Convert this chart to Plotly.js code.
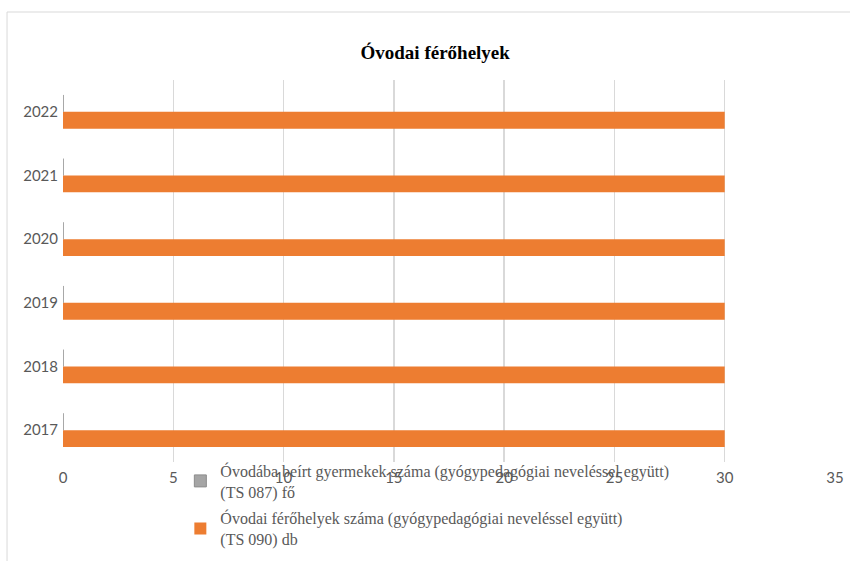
<!DOCTYPE html>
<html>
<head>
<meta charset="utf-8">
<script src="https://cdn.plot.ly/plotly-3.0.1.min.js"></script>
<style>html,body{margin:0;padding:0;background:#fff}#chart{width:850px;height:561px}</style>
</head>
<body>
<div id="chart"></div>
<script>
const years = ['2017', '2018', '2019', '2020', '2021', '2022'];
const enrolled = [0, 0, 0, 0, 0, 0];
const places = [30, 30, 30, 30, 30, 30];
const seriesNames = [
  'Óvodába beírt gyermekek száma (gyógypedagógiai neveléssel együtt)<br>(TS 087) fő',
  'Óvodai férőhelyek száma (gyógypedagógiai neveléssel együtt)<br>(TS 090) db'
];
const xTicks = [0, 5, 10, 15, 20, 25, 30, 35];

const traces = [
  {
    type: 'bar', orientation: 'h', y: years, x: places, name: seriesNames[1],
    marker: {color: '#ED7D31'}, legendrank: 2, legendgroup: 'b'
  },
  {
    type: 'bar', orientation: 'h', y: years, x: enrolled, name: seriesNames[0],
    marker: {color: '#A5A5A5', line: {color: '#8c8c8c', width: 1}}, legendrank: 1, legendgroup: 'a'
  }
];

const layout = {
  width: 850, height: 561,
  margin: {l: 63, r: 15, t: 80, b: 99, autoexpand: false},
  paper_bgcolor: '#fff', plot_bgcolor: '#fff',
  barmode: 'group', bargap: 0.47, bargroupgap: 0,
  title: {
    text: '<b>Óvodai férőhelyek</b>',
    font: {family: 'Liberation Serif, serif', size: 19, color: '#000'},
    x: 0.512, xanchor: 'center', y: 0.907, yanchor: 'middle'
  },
  xaxis: {
    range: [0, 35], tickvals: xTicks, ticktext: xTicks.map(String),
    showgrid: true, gridcolor: '#d9d9d9', gridwidth: 1.5, zeroline: false,
    showline: false, ticks: '', ticklabelstandoff: 5, automargin: false,
    tickfont: {family: 'Lato, sans-serif', size: 15, color: '#595959'}
  },
  yaxis: {
    type: 'category', categoryorder: 'array', categoryarray: years,
    showgrid: false, zeroline: false, showline: false, ticks: '',
    ticklabelstandoff: 4, automargin: false,
    tickfont: {family: 'Lato, sans-serif', size: 15, color: '#595959'}
  },
  showlegend: true,
  legend: {
    x: 0.152, xanchor: 'left', y: 0.022, yanchor: 'top',
    bgcolor: 'rgba(0,0,0,0)',
    font: {family: 'Liberation Serif, serif', size: 16, color: '#595959'},
    itemwidth: 30, tracegroupgap: 3, traceorder: 'grouped'
  },
  shapes: [
    {type: 'line', xref: 'paper', yref: 'paper', x0: -0.0725, x1: -0.0725, y0: -0.26, y1: 1.178,
     line: {color: '#d9d9d9', width: 1}},
    {type: 'line', xref: 'paper', yref: 'paper', x0: -0.0725, x1: 1.03, y0: 1.178, y1: 1.178,
     line: {color: '#d9d9d9', width: 1}}
  ]
};

Plotly.newPlot('chart', traces, layout, {displayModeBar: false, staticPlot: true});
</script>
</body>
</html>
